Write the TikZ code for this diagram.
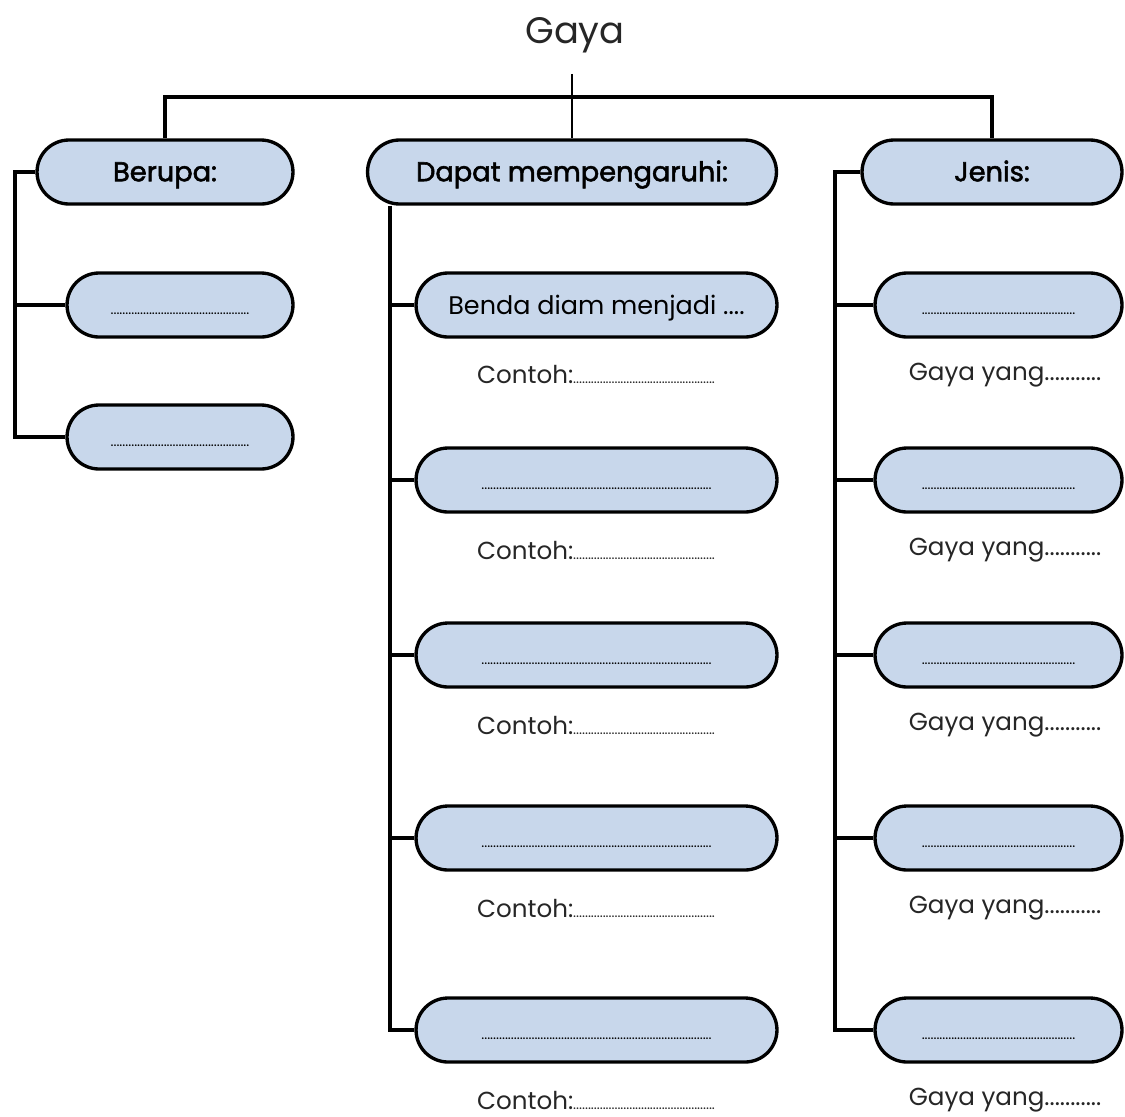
\documentclass[tikz,border=0pt]{standalone}
\usepackage{fontspec}
\setmainfont{Poppins}
\newfontfamily\sedang{Poppins}[FakeBold=2]
\usetikzlibrary{shapes.misc}
\definecolor{isi}{RGB}{200,215,235}
\newcommand{\titik}[1]{{\fontsize{8}{8}\selectfont\foreach \k in {1,...,#1}{.}}}
\tikzset{
  kotak/.style={draw=black, line width=1.9pt, fill=isi, rounded rectangle,
    minimum height=1.28cm, inner sep=0pt, text height=10.5pt, text depth=0pt,
    font=\fontsize{14.5}{16}\selectfont},
  tebal/.style={font=\fontsize{15.5}{18}\sedang},
  ket/.style={font=\fontsize{14}{16}\selectfont, text=black!85},
  garis/.style={line width=1.9pt},
}

\begin{document}
\begin{tikzpicture}[x=0.02cm, y=-0.02cm]
  \useasboundingbox (0,0) rectangle (1125,1116);

  % 1. judul dan tiga kotak utama
  \node[font=\fontsize{21}{24}\selectfont, text=black!85] (gaya) at (575,35) {Gaya};
  \node[kotak, tebal, minimum width=5.12cm] (berupa) at (165,172) {Berupa:};
  \node[kotak, tebal, minimum width=8.18cm] (dapat) at (572,172) {Dapat mempengaruhi:};
  \node[kotak, tebal, minimum width=5.2cm] (jenis) at (992,172) {Jenis:};

  % 2. rel untuk cabang
  \coordinate (palang) at (572,97);
  \coordinate (kiri) at (15,0);
  \coordinate (tengah) at (390,0);
  \coordinate (kanan) at (835,0);

  % 3. kotak di bawah Berupa
  \node[kotak, minimum width=4.52cm] (b1) at (180,305) {\titik{47}};
  \node[kotak, minimum width=4.52cm] (b2) at (180,437) {\titik{47}};

  % 4. kotak di bawah Dapat mempengaruhi dan Jenis
  \foreach \i/\y/\t in {1/305/{Benda diam menjadi ....}, 2/480/{\titik{78}},
      3/655/{\titik{78}}, 4/838/{\titik{78}}, 5/1030/{\titik{78}}} {
    \node[kotak, minimum width=7.22cm] (m\i) at (596.5,\y) {\t};
    \node[ket] (c\i) at (596,\y+70) {Contoh:\titik{48}};
    \node[kotak, minimum width=4.94cm] (j\i) at (998.5,\y) {\titik{52}};
    \node[ket] (g\i) at (1005,\y+70) {Gaya yang...........};
  }

  % 5. garis penghubung
  \draw[line width=0.8pt] ([yshift=-0.3cm]gaya.south -| dapat.north) -- (dapat.north);
  \draw[garis] (berupa.north) |- (palang) -| (jenis.north);
  \draw[garis] (berupa.west) -| (kiri |- b2.west) -- (b2.west);
  \draw[garis] (kiri |- b1.west) -- (b1.west);
  \draw[garis] (dapat.south -| tengah) |- (m5.west);
  \draw[garis] (jenis.west) -| (kanan |- j5.west) -- (j5.west);
  \foreach \i in {1,...,4} {
    \draw[garis] (tengah |- m\i.west) -- (m\i.west);
    \draw[garis] (kanan |- j\i.west) -- (j\i.west);
  }
\end{tikzpicture}
\end{document}
